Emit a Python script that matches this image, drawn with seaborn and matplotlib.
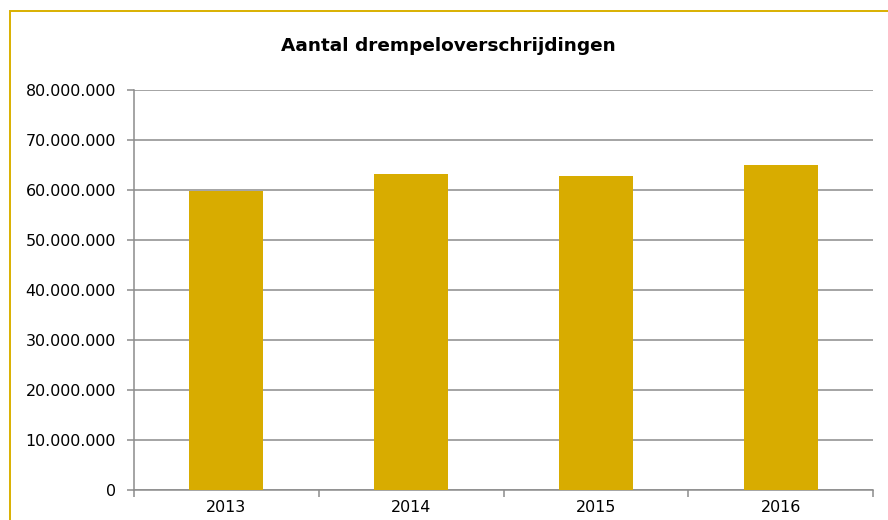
import matplotlib
matplotlib.use("Agg")
import matplotlib.pyplot as plt
import seaborn as sns
import pandas as pd
from matplotlib.ticker import FuncFormatter, FixedLocator
from matplotlib.patches import Rectangle

years = ["2013", "2014", "2015", "2016"]
values = [59800000, 63200000, 62900000, 65000000]
title = "Aantal drempeloverschrijdingen"

sns.set_theme(style="white")
plt.rcParams['font.family'] = ['DejaVu Sans']

df = pd.DataFrame({"jaar": years, "aantal": values})

fig = plt.figure(figsize=(8.88, 5.2), dpi=100)
ax = fig.add_axes([134/888, 30/520, (873-134)/888, 400/520])

sns.barplot(data=df, x="jaar", y="aantal", color="#D8AC00", width=0.4,
            saturation=1, linewidth=0, edgecolor="none", ax=ax, zorder=3)

ax.set_ylim(0, 80000000)
ax.set_xlim(-0.5, 3.5)
ax.set_yticks(range(0, 80000001, 10000000))
ax.yaxis.set_major_formatter(FuncFormatter(lambda v, p: f"{int(v):,}".replace(",", ".")))
ax.grid(axis="y", color="#8c8c8c", linewidth=1.1, zorder=0)
ax.set_axisbelow(True)
ax.set_xlabel("")
ax.set_ylabel("")

for s in ["top", "right"]:
    ax.spines[s].set_visible(False)
for s in ["left", "bottom"]:
    ax.spines[s].set_color("#8c8c8c")
    ax.spines[s].set_linewidth(1.1)

ax.tick_params(axis="y", which="major", length=5, width=1.1, color="#8c8c8c",
               direction="out", pad=8, labelsize=11.4, labelcolor="black", left=True)
ax.tick_params(axis="x", which="major", length=0, pad=7, labelsize=11.4, labelcolor="black")
ax.xaxis.set_minor_locator(FixedLocator([-0.5, 0.5, 1.5, 2.5, 3.5]))
ax.tick_params(axis="x", which="minor", length=5, width=1.1, color="#8c8c8c",
               direction="out", bottom=True)

fig.text(448/888, 1 - 46/520, title, ha="center", va="center",
         fontsize=13.3, fontweight="bold", color="black")

fig.patches.append(Rectangle((10/888, -0.1), 1.2, 1 - 11/520 + 0.1,
                             transform=fig.transFigure, fill=False,
                             edgecolor="#D9B000", linewidth=1.4))

fig.savefig("out.png", dpi=100)
